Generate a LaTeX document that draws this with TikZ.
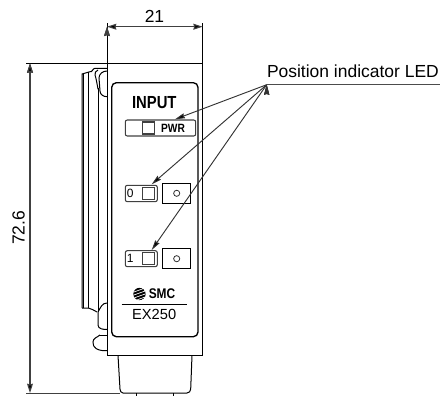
\documentclass[tikz,border=0pt]{standalone}
\usepackage{fontspec}
\setmainfont{Liberation Sans}
\usetikzlibrary{arrows.meta,calc,positioning}
\newcommand{\tightlabel}[1]{\scalebox{.85}[1]{#1}}
\tikzset{
    unit/.style={x=0.75pt,y=-0.75pt,line width=0.75pt},
    dimline/.style={draw=black!75,{Stealth[length=7pt,width=4.4pt,inset=0.6pt]}-{Stealth[length=7pt,width=4.4pt,inset=0.6pt]},line width=0.8pt},
    extline/.style={draw=black,line width=0.75pt},
    leaderline/.style={draw=black!80,-{Stealth[length=7.5pt,width=3.8pt,inset=0.6pt]},line width=0.7pt},
    bigtext/.style={font=\fontsize{13.1}{15}\selectfont,inner sep=0pt},
    smalltext/.style={font=\fontsize{9}{10}\selectfont,inner sep=0pt},
    ledbox/.style={draw=black!75,rounded corners=1.5pt,line width=0.8pt,inner sep=0pt},
    ledsquare/.style={draw=black!75,line width=0.8pt,inner sep=0pt,minimum size=9pt},
    keybox/.style={draw=black,line width=1pt,inner sep=0pt,minimum width=21pt,minimum height=15pt},
    keyhole/.style={circle,draw=black!80,line width=0.6pt,inner sep=0pt,minimum size=4.6pt},
    }
\begin{document}
\begin{tikzpicture}[unit]
    \useasboundingbox (0,0) rectangle (440,396);

    % body and connector
    \draw[extline] (107,23) -- (107,355.3) -- (202.7,355.3);
    \draw[extline] (202.7,23) -- (202.7,355.3);
    \draw[extline] (26,63.5) -- (202.7,63.5);
    \draw[extline] (118,355.3) -- (120,389) to[out=-90,in=180] (123,393) -- (187,393)
        to[out=0,in=-90] (190.7,389) -- (192,355.3);
    \draw[draw=black!75] (26,393) -- (120,393);
    \draw (136.7,393) -- (136.7,396);
    \draw (173.3,393) -- (173.3,396);

    % side flange
    \draw (82,308) -- (82,74) -- (90,71.7) to[out=-35,in=180] (95,68.3) -- (107,68.3);
    \draw (83.5,308) -- (83.5,73.5);
    \draw (88.3,308) -- (88.3,72);
    \draw (82,308) -- (88.3,308) to[out=0,in=165] (97,312);
    \draw (98.3,312) -- (98.3,88);
    \draw (98.3,88) to[out=-90,in=-70] (95,75);
    \draw (95,75) to[out=110,in=-150] (98,70);
    \draw (107,71) to[out=180,in=90] (99,78) -- (100,91) to[out=-90,in=180] (107,96.7);
    \draw (107,303) to[out=180,in=60] (98,312) -- (98,325) to[out=-90,in=180] (107,329.5);
    \draw (100,335) -- (107,335);
    \draw (100,335) to[out=-140,in=90] (93,342) to[out=-90,in=150] (96,348.5)
        to[out=-30,in=180] (107,350.7);

    % panel
    \draw[line width=1pt,rounded corners=3.5pt] (111.7,82.7) rectangle (198,336.7);

    \node[bigtext,font=\fontsize{13.1}{15}\selectfont\bfseries] (input) at (154.3,103) {\tightlabel{INPUT}};

    \node[ledbox,minimum width=52.8pt,minimum height=12pt] (pwrbox) at (160.5,128) {};
    \node[ledsquare] (pwrled) at (148.5,128) {};
    \node[smalltext,font=\fontsize{9}{10}\selectfont\bfseries] (pwrtext) at (173,128) {\tightlabel{PWR}};

    \node[ledbox,minimum width=24pt,minimum height=12.3pt] (zerobox) at (141.3,193.5) {};
    \node[ledsquare] (zeroled) at (148.7,193.5) {};
    \node[smalltext] (zerotext) at (130.3,193.5) {0};
    \node[keybox] (zerokey) at (176.7,193.3) {};
    \node[keyhole] (zerohole) at (176.7,193.3) {};

    \node[ledbox,minimum width=24pt,minimum height=12pt] (onebox) at (141.3,258.7) {};
    \node[ledsquare] (oneled) at (148.7,258.7) {};
    \node[smalltext] (onetext) at (130.3,258.7) {1};
    \node[keybox] (onekey) at (176.7,258.7) {};
    \node[keyhole] (onehole) at (176.7,258.7) {};

    % logo
    \begin{scope}
        \clip (139.5,294) circle (6.2);
        \fill (139.5,294) circle (6.2);
        \foreach \d in {-4,-1,2,5}
            \draw[white,line width=0.5pt] (131,294+\d+3) -- (148,294+\d-3);
    \end{scope}
    \node[bigtext,font=\fontsize{10.5}{12}\selectfont\bfseries] (smc) at (162,294) {\tightlabel{SMC}};
    \draw (121.7,304) -- (186.7,304);
    \node[bigtext,font=\fontsize{11}{13}\selectfont] (model) at (154.2,314) {EX250};

    % dimensions
    \node[bigtext] (width) at (154.5,16) {21};
    \node[bigtext,rotate=90] (height) at (18.5,228) {72.6};
    \coordinate (widthl) at (107,26.7);
    \coordinate (widthr) at (202.7,26.7);
    \coordinate (heightt) at (30,63.5);
    \coordinate (heightb) at (30,393);
    \path[dimline] (widthl) edge[] (widthr);
    \path[dimline] (heightt) edge[] (heightb);

    % leader
    \node[bigtext,anchor=south west] (leader) at (266.5,78.5) {Position indicator LED};
    \coordinate (apex) at (266.7,84.7);
    \coordinate (leaderend) at (440,84.7);
    \coordinate (pwrtip) at (175,119.3);
    \coordinate (zerotip) at (151.7,184.3);
    \coordinate (onetip) at (151.7,250);
    \draw[draw=black!70,line width=0.9pt] (apex) -- (leaderend);
    \path[leaderline] (apex) edge[] (pwrtip);
    \path[leaderline] (apex) edge[] (zerotip);
    \path[leaderline] (apex) edge[] (onetip);
\end{tikzpicture}
\end{document}
